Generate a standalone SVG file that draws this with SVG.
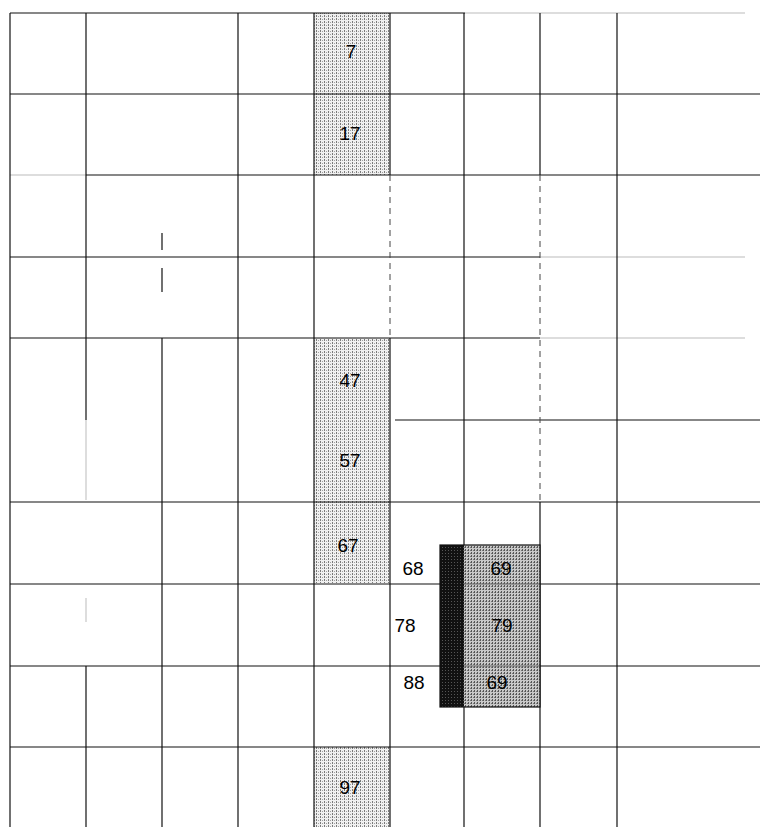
<svg xmlns="http://www.w3.org/2000/svg" width="760" height="827" viewBox="0 0 760 827">
<defs>
<pattern id="stipple" width="4" height="3" patternUnits="userSpaceOnUse">
<rect width="4" height="3" fill="#f0f0f0"/>
<rect x="0" y="0" width="1" height="2" fill="#7a7a7a"/>
<rect x="2" y="1" width="1" height="1" fill="#a0a0a0"/>
</pattern>
<pattern id="stippleDark" width="3" height="3" patternUnits="userSpaceOnUse">
<rect width="3" height="3" fill="#c8c8c8"/>
<rect x="0" y="0" width="1" height="2" fill="#555"/>
<rect x="2" y="1" width="1" height="1" fill="#777"/>
</pattern>
<pattern id="stippleBlack" width="3" height="3" patternUnits="userSpaceOnUse">
<rect width="3" height="3" fill="#111"/>
<rect x="1" y="1" width="1" height="1" fill="#555"/>
</pattern>
</defs>
<style>
.g{stroke:#111;stroke-width:1.2;fill:none}
.d{stroke:#444;stroke-width:1;stroke-dasharray:6 5;fill:none}
.f{stroke:#bbb;stroke-width:1;fill:none}
.t{font-family:"Liberation Sans",Arial,sans-serif;font-size:19px;fill:#000;text-anchor:middle}
</style>
<rect width="760" height="827" fill="#fff"/>

<g id="shaded-column">
<rect id="cell-7-17" x="314" y="13" width="76" height="162" fill="url(#stipple)"/>
<rect id="cell-47-67" x="314" y="338" width="76" height="245" fill="url(#stipple)"/>
<rect id="cell-97" x="314" y="747" width="76" height="80" fill="url(#stipple)"/>
</g>

<g id="connectors">
<line class="g" x1="10" y1="13" x2="465" y2="13"/>
<line class="f" x1="465" y1="13" x2="745" y2="13"/>
<line class="g" x1="10" y1="94" x2="760" y2="94"/>
<line class="f" x1="10" y1="175" x2="86" y2="175"/>
<line class="g" x1="86" y1="175" x2="760" y2="175"/>
<line class="g" x1="10" y1="257" x2="540" y2="257"/>
<line class="f" x1="540" y1="257" x2="745" y2="257"/>
<line class="g" x1="10" y1="338" x2="540" y2="338"/>
<line class="f" x1="540" y1="338" x2="745" y2="338"/>
<line class="g" x1="395" y1="420" x2="760" y2="420"/>
<line class="g" x1="10" y1="502" x2="760" y2="502"/>
<line class="g" x1="10" y1="584" x2="760" y2="584"/>
<line class="g" x1="10" y1="666" x2="760" y2="666"/>
<line class="g" x1="10" y1="747" x2="760" y2="747"/>
<line class="g" x1="10" y1="13" x2="10" y2="827"/>
<line class="g" x1="86" y1="13" x2="86" y2="420"/>
<line class="f" x1="86" y1="420" x2="86" y2="500"/>
<line class="f" x1="86" y1="598" x2="86" y2="622"/>
<line class="g" x1="86" y1="666" x2="86" y2="827"/>
<line class="g" x1="162" y1="233" x2="162" y2="250"/>
<line class="g" x1="162" y1="268" x2="162" y2="292"/>
<line class="g" x1="162" y1="338" x2="162" y2="827"/>
<line class="g" x1="238" y1="13" x2="238" y2="827"/>
<line class="g" x1="314" y1="13" x2="314" y2="827"/>
<line class="g" x1="390" y1="13" x2="390" y2="175"/>
<line class="d" x1="390" y1="175" x2="390" y2="338"/>
<line class="g" x1="390" y1="338" x2="390" y2="827"/>
<line class="g" x1="464" y1="13" x2="464" y2="545"/>
<line class="g" x1="464" y1="707" x2="464" y2="827"/>
<line class="g" x1="540" y1="13" x2="540" y2="175"/>
<line class="d" x1="540" y1="175" x2="540" y2="502"/>
<line class="g" x1="540" y1="502" x2="540" y2="827"/>
<line class="g" x1="617" y1="13" x2="617" y2="827"/>
</g>

<g id="box-69-89">
<rect x="440" y="545" width="24" height="162" fill="url(#stippleBlack)"/>
<rect x="464" y="545" width="76" height="162" fill="url(#stippleDark)"/>
<line x1="464" y1="584" x2="540" y2="584" stroke="#666" stroke-width="1"/>
<line x1="464" y1="666" x2="540" y2="666" stroke="#666" stroke-width="1"/>
<rect x="440" y="545" width="100" height="162" fill="none" stroke="#111" stroke-width="1.2"/>
</g>

<g id="labels">
<text id="n7" class="t" x="351" y="58">7</text>
<text id="n17" class="t" x="350" y="140">17</text>
<text id="n47" class="t" x="350" y="387">47</text>
<text id="n57" class="t" x="350" y="467">57</text>
<text id="n67" class="t" x="348" y="552">67</text>
<text id="n68" class="t" x="413" y="575">68</text>
<text id="n78" class="t" x="405" y="632">78</text>
<text id="n88" class="t" x="414" y="689">88</text>
<text id="n69" class="t" x="501" y="575">69</text>
<text id="n79" class="t" x="502" y="632">79</text>
<text id="n89" class="t" x="497" y="689">69</text>
<text id="n97" class="t" x="350" y="794">97</text>
</g>
</svg>
